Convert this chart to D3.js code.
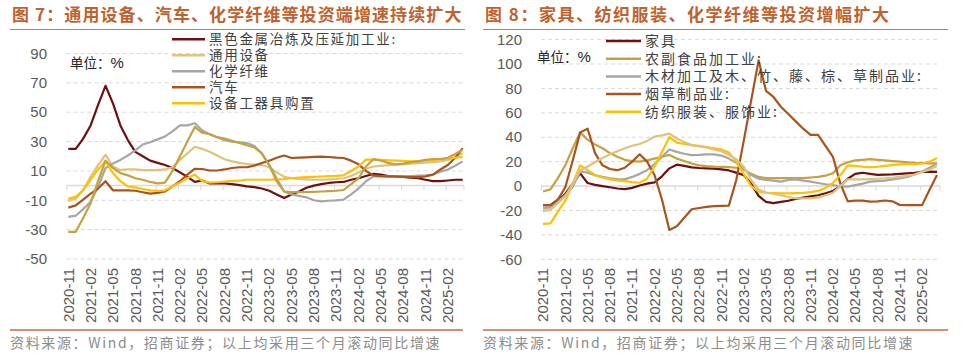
<!DOCTYPE html>
<html>
<head>
<meta charset="utf-8">
<script src="https://cdn.jsdelivr.net/npm/d3@7"></script>
<style>
body { margin: 0; background: #fff; }
svg { display: block; font-family: "Liberation Sans", Arial, sans-serif; }
</style>
</head>
<body>
<svg id="chart" width="963" height="360"></svg>
<script>
// months, 3-month rolling yoy
var months = ["2020-11","2020-12",
  "2021-01","2021-02","2021-03","2021-04","2021-05","2021-06","2021-07","2021-08","2021-09","2021-10","2021-11","2021-12",
  "2022-01","2022-02","2022-03","2022-04","2022-05","2022-06","2022-07","2022-08","2022-09","2022-10","2022-11","2022-12",
  "2023-01","2023-02","2023-03","2023-04","2023-05","2023-06","2023-07","2023-08","2023-09","2023-10","2023-11","2023-12",
  "2024-01","2024-02","2024-03","2024-04","2024-05","2024-06","2024-07","2024-08","2024-09","2024-10","2024-11","2024-12",
  "2025-01","2025-02","2025-03","2025-04"];

var tickLabels = ["2020-11","2021-02","2021-05","2021-08","2021-11","2022-02","2022-05","2022-08","2022-11",
  "2023-02","2023-05","2023-08","2023-11","2024-02","2024-05","2024-08","2024-11","2025-02"];

var leftTicks = [-50, -30, -10, 10, 30, 50, 70, 90];
var rightTicks = [-60, -40, -20, 0, 20, 40, 60, 80, 100, 120];

// 图7
var leftSteel = [25, 25, 32, 41, 55, 68, 56, 41, 31, 23, 20, 17, 15.5, 14, 12, 9, 6, 2.5, 3.5, 1.5,
  1.5, 1.5, 1, 0.3, -0.5, -1, -2, -3.5, -6, -8.5, -6, -4, -1.5, 0, 1, 1.8, 2.3, 2.5, 4, 5,
  6.5, 8, 7.5, 6.5, 6.3, 6, 5.5, 5, 4, 3, 3, 3.5, 4, 4];
var leftGeneral = [-10.5, -9, -3, 6, 14, 21, 13, 10.5, 11, 11, 10.5, 10.5, 10.5, 11, 12.5, 17.5, 22, 26.5, 25, 23,
  20.5, 18, 16.5, 15.5, 14.7, 14.3, 14, 12.5, 9, 6, 5, 4.5, 4.3, 4, 4, 4.2, 4.5, 5, 6.5, 9,
  11.5, 13, 13.5, 14, 14.3, 14.5, 15, 15.3, 15.6, 16, 16.5, 17.5, 19.5, 22];
var leftChemFiber = [-21.3, -20.5, -16, -11, -1, 12, 15, 17.5, 20.5, 24, 28, 29.5, 31.5, 33.5, 37, 41, 41, 42.5, 37.5, 35,
  33, 31, 30, 29.5, 29, 27, 22, 14, 5, -4, -6, -7, -8, -10, -10.8, -10.3, -10, -9.5, -6, -2,
  3, 6.3, 6.3, 6.3, 6.3, 6.3, 6.5, 6.8, 7, 7.5, 9.5, 11, 13.5, 16.5];
var leftAuto = [-15, -13.5, -9.5, -5.5, -2, 3, -3.2, -3.2, -3.3, -3.5, -4.5, -5.5, -5, -4, -0.5, 3, 7.5, 11.5, 11.3, 10.3,
  10.3, 11, 12, 12.5, 12.5, 13.6, 15.4, 17, 19, 20.5, 18.8, 19, 19.3, 19.6, 19.7, 19.5, 19, 18.8, 17, 14.5,
  10, 7, 6.5, 6.3, 6.2, 6, 5.8, 5.8, 6.2, 7.5, 11, 14, 19, 25.5];
var leftEquipBuy = [-9, -7.7, -3, 4, 11, 16.6, 8.6, 3, -0.5, -1.2, -2.3, -3.2, -3.6, -3.2, -0.5, 2, 5, 7.5, 3, 2,
  2.3, 2.7, 3.2, 3.4, 4, 4, 4, 4, 4.2, 4.5, 5, 5.5, 5.8, 6, 6.2, 6.4, 6.6, 7, 10, 13,
  17.7, 17.7, 17.5, 17.2, 17, 16.8, 16.5, 16.7, 17, 17.5, 18, 18.3, 19, 19.5];
var leftSpecial = [-31.5, -31.5, -22, -12, 3, 17, 12, 8.5, 7, 5, 4, 2.5, 1.5, 2, 10, 20, 30, 40, 36, 35,
  33, 32, 30.5, 29, 27.5, 26, 22, 14, 3, -4, -4.5, -4.5, -4.5, -4.3, -4, -3.8, -3.5, -3, 1, 5,
  13, 18, 17, 15.5, 14.5, 15, 16, 16.5, 17.5, 18, 18, 19, 21.5, 24.5];

// 图8
var rightFurniture = [-15.6, -15.6, -11.5, -6.5, 2, 10.4, 2.5, 1, 0, -1, -2, -2.5, -1.5, 0.5, 2, 3, 8, 14.5, 17.5, 16.5,
  15.3, 14.8, 14.5, 14.3, 13.7, 12.8, 11, 9, 2, -8, -13, -14, -13, -12, -10.5, -9.5, -8.5, -7.5, -6, -4,
  0, 6, 10, 10.9, 10, 9.2, 9.3, 9.5, 10, 10.4, 10.8, 11.7, 11.8, 11.7];
var rightAgriFood = [-4.5, -2.7, 6.5, 17, 31, 44, 38, 34, 31, 27, 24, 21.5, 20.5, 20, 21, 22.5, 24, 25.5, 22.5, 20.5,
  18.5, 17, 16.4, 16, 15.8, 15.5, 15, 13.5, 10, 7.5, 6.5, 6.5, 6.5, 6.5, 6.5, 6.5, 7, 7.5, 8.5, 10.5,
  17, 19.5, 21, 21.5, 22, 21.5, 21, 20.5, 20, 19.5, 19, 18.8, 18.6, 18.6];
var rightWood = [-18.3, -17.5, -12.8, -7.4, -0.5, 12, 11, 9, 7.5, 6.3, 5.8, 5.5, 7.5, 10, 13, 18, 24, 30, 28, 26.5,
  25.4, 25.5, 26, 26, 25, 22.5, 19, 14, 9, 6, 5, 4.5, 3.6, 5, 5.5, 4.5, 3.6, 2.5, 1.5, 0.8,
  -0.2, -0.5, 0.8, 2, 3.6, 4, 4.4, 5.5, 6.3, 7.5, 9.5, 12, 15, 18.6];
var rightTobacco = [-15.6, -15.6, -11, -1, 21, 44, 47, 27, 17, 14, 13, 15, 20, 26, 20, 9, -11, -36, -33, -26,
  -19, -18, -17, -16.4, -16.2, -16, 5, 37, 70, 103, 78, 73, 65, 59, 53, 47, 42, 42, 33, 24,
  2, -12.5, -12, -12, -12.8, -12.5, -11.8, -12.5, -15.5, -15.6, -15.6, -15.6, -3, 9];
var rightTextile = [-31, -30.6, -21, -12, 2, 17, 13, 9, 7, 5.5, 4.7, 4, 3.2, 2.7, 6, 16, 28, 40, 35.5, 34.5,
  33.6, 33, 32, 31, 30, 27.5, 20, 10, 0, -4.6, -5.5, -5.7, -6, -6, -5.8, -5.5, -5, -4, -1.5, 2.5,
  9, 17, 16.5, 15.8, 15.5, 15.8, 16.5, 17.2, 17.8, 18, 18, 18.5, 20, 23];
var rightChemFiber = [-20.5, -19.5, -14, -8.5, 2, 13, 16, 19.5, 23, 26, 28.5, 31, 33, 34.5, 37, 40.5, 41.5, 43, 39, 36,
  33.6, 32.5, 31.5, 30, 28.5, 25.5, 22, 16, 5, -3, -5.3, -6.5, -7.5, -9, -10, -10.1, -10.1, -9.5, -7.5, -5.5,
  0, 5.5, 5.5, 5.5, 5.7, 6, 6.3, 6.8, 7.5, 8.5, 9.5, 11.5, 13.5, 16.5];

var C = { maroon: "#6f1010", tan: "#dfc27e", gray: "#a6a6a6", brown: "#a9541c", yellow: "#ffc000", gold: "#c7a13f" };
var accent = "#c0622f";

var panels = [
  {
    title: "图 7：通用设备、汽车、化学纤维等投资端增速持续扩大", titleX: 12, titleLs: 1.1,
    yDomain: [-50, 90], yRange: [259, 53.5], ticks: leftTicks,
    xRange: [68.3, 462.7], axis: [66.5, 464], yLabelX: 47,
    topRule: [10, 465], footRule: [10, 463],
    unit: [70, 68], legend: { x1: 172, x2: 205, tx: 209, y0: 39.3, dy: 16, fs: 13.5, ls: 1.7 },
    series: [
      { name: "黑色金属冶炼及压延加工业:", values: leftSteel, color: C.maroon, show: true },
      { name: "通用设备", values: leftGeneral, color: C.tan, show: true },
      { name: "化学纤维", values: leftChemFiber, color: C.gray, show: true },
      { name: "汽车", values: leftAuto, color: C.brown, show: true },
      { name: "设备工器具购置", values: leftEquipBuy, color: C.yellow, show: true },
      { name: "专用设备", values: leftSpecial, color: C.gold, show: false }
    ]
  },
  {
    title: "图 8：家具、纺织服装、化学纤维等投资增幅扩大", titleX: 485, titleLs: 1.5,
    yDomain: [-60, 120], yRange: [259.3, 39.6], ticks: rightTicks,
    xRange: [543, 937], axis: [541, 940], yLabelX: 522,
    topRule: [483, 948], footRule: [483, 948],
    unit: [537, 62], legend: { x1: 606, x2: 641, tx: 645, y0: 41, dy: 17.7, fs: 14, ls: 2 },
    series: [
      { name: "家具", values: rightFurniture, color: C.maroon, show: true },
      { name: "农副食品加工业:", values: rightAgriFood, color: C.gold, show: true },
      { name: "木材加工及木、竹、藤、棕、草制品业:", values: rightWood, color: C.gray, show: true },
      { name: "烟草制品业:", values: rightTobacco, color: C.brown, show: true },
      { name: "纺织服装、服饰业:", values: rightTextile, color: C.yellow, show: true },
      { name: "化学纤维制造业", values: rightChemFiber, color: C.tan, show: false }
    ]
  }
];

var svg = d3.select("#chart");

panels.forEach(function(p) {
  var g = svg.append("g");

  var x = d3.scalePoint().domain(months).range(p.xRange);
  var y = d3.scaleLinear().domain(p.yDomain).range(p.yRange);

  // title + rules
  g.append("text")
    .attr("x", p.titleX).attr("y", 21)
    .attr("font-family", "'Noto Sans CJK SC', sans-serif")
    .attr("font-weight", "bold").attr("font-size", 17)
    .attr("letter-spacing", p.titleLs)
    .attr("fill", accent)
    .text(p.title);
  g.append("line")
    .attr("x1", p.topRule[0]).attr("x2", p.topRule[1]).attr("y1", 29.5).attr("y2", 29.5)
    .attr("stroke", "#cd7a52").attr("stroke-width", 1);
  g.append("line")
    .attr("x1", p.footRule[0]).attr("x2", p.footRule[1]).attr("y1", 330).attr("y2", 330)
    .attr("stroke", "#c96a40").attr("stroke-width", 1.6);
  g.append("text")
    .attr("x", p.footRule[0]).attr("y", 347.5)
    .attr("font-family", "'Noto Sans CJK SC', sans-serif")
    .attr("font-size", 14).attr("letter-spacing", 1.65)
    .attr("fill", "#8c8c8c")
    .text("资料来源：Wind，招商证券；以上均采用三个月滚动同比增速");

  // gridlines
  g.append("g").selectAll("line")
    .data(p.ticks.filter(function(t) { return t !== 0; }))
    .enter().append("line")
    .attr("x1", p.axis[0]).attr("x2", p.axis[1])
    .attr("y1", function(d) { return y(d); }).attr("y2", function(d) { return y(d); })
    .attr("stroke", "#d9d9d9").attr("stroke-width", 1).attr("stroke-dasharray", "4,3");

  // y labels
  g.append("g").selectAll("text")
    .data(p.ticks)
    .enter().append("text")
    .attr("x", p.yLabelX).attr("y", function(d) { return y(d); })
    .attr("dy", "0.35em").attr("text-anchor", "end")
    .attr("font-size", 15).attr("fill", "#595959")
    .text(function(d) { return d; });

  // zero axis with ticks
  g.append("line")
    .attr("x1", p.axis[0]).attr("x2", p.axis[1]).attr("y1", y(0)).attr("y2", y(0))
    .attr("stroke", "#d9d9d9").attr("stroke-width", 1.5);
  var tickPos = tickLabels.map(function(m) { return x(m) - 1.5; }).concat([p.axis[1]]);
  g.append("g").selectAll("line")
    .data(tickPos)
    .enter().append("line")
    .attr("x1", function(d) { return d; }).attr("x2", function(d) { return d; })
    .attr("y1", y(0)).attr("y2", y(0) + 4.5)
    .attr("stroke", "#d9d9d9").attr("stroke-width", 1);

  // x labels
  g.append("g").selectAll("text")
    .data(tickLabels)
    .enter().append("text")
    .attr("transform", function(d) { return "translate(" + x(d) + ",268) rotate(-90)"; })
    .attr("dy", "0.35em").attr("text-anchor", "end")
    .attr("font-size", 15).attr("fill", "#595959")
    .text(function(d) { return d; });

  // lines
  var line = d3.line()
    .x(function(d, i) { return x(months[i]); })
    .y(function(d) { return y(d); });

  g.append("g").selectAll("path")
    .data(p.series)
    .enter().append("path")
    .attr("d", function(s) { return line(s.values); })
    .attr("fill", "none")
    .attr("stroke", function(s) { return s.color; })
    .attr("stroke-width", 2.2)
    .attr("stroke-linejoin", "round");

  // unit
  var u = g.append("text")
    .attr("x", p.unit[0]).attr("y", p.unit[1])
    .attr("font-family", "'Noto Sans CJK SC', sans-serif")
    .attr("font-size", 13.5).attr("fill", "#262626");
  u.append("tspan").text("单位：");
  u.append("tspan").attr("font-family", "'Liberation Sans', Arial, sans-serif").attr("font-size", 15).text("%");

  // legend
  var lg = p.legend;
  var items = p.series.filter(function(s) { return s.show; });
  var row = g.append("g").selectAll("g")
    .data(items)
    .enter().append("g")
    .attr("transform", function(d, i) { return "translate(0," + (lg.y0 + i * lg.dy) + ")"; });
  row.append("line")
    .attr("x1", lg.x1).attr("x2", lg.x2)
    .attr("stroke", function(d) { return d.color; }).attr("stroke-width", 2.5);
  row.append("text")
    .attr("x", lg.tx).attr("dy", "0.36em")
    .attr("font-family", "'Noto Sans CJK SC', sans-serif")
    .attr("font-size", lg.fs).attr("letter-spacing", lg.ls)
    .attr("fill", "#404040")
    .text(function(d) { return d.name; });
});
</script>
</body>
</html>
